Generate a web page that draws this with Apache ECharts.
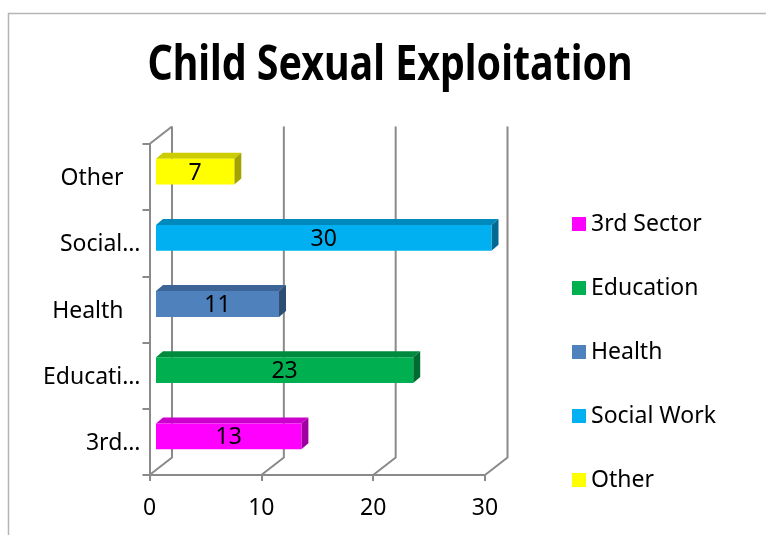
<!DOCTYPE html>
<html lang="en">
  <head>
    <meta charset="UTF-8" />
    <title>Child Sexual Exploitation</title>
    <style>
      * {
        margin: 0;
        padding: 0;
      }
      #main {
        width: 766px;
        height: 535px;
        background: #fff;
      }
    </style>
  </head>
  <body>
    <div id="main"></div>
    <script src="https://cdn.jsdelivr.net/npm/echarts@6/dist/echarts.min.js"></script>
    <script>
      // categories, bottom to top on the y axis
      var categories = ["3rd Sector", "Education", "Health", "Social Work", "Other"];
      // the axis shows cut-off names like excel does
      var tickLabels = ["3rd…", "Educati…", "Health", "Social…", "Other"];
      var values = [13, 23, 11, 30, 7];
      var xTicks = [0, 10, 20, 30];
      // face colours of the 3d bars
      var frontColors = ["#FF00FF", "#00B050", "#4F81BD", "#00B0F0", "#FFFF00"];
      var topColors = ["#CC00CC", "#008A3E", "#3D6496", "#0089BC", "#CCCC00"];
      var sideColors = ["#A000A0", "#006B30", "#2E4D73", "#006A92", "#A3A300"];

      var FONT = "Noto Sans";
      var LINE = "#8a8a8a";
      // depth of the back wall and of the bars
      var WALL_DX = 22.5, WALL_DY = -17.5;
      var BAR_DX = 7, BAR_DY = -6, BAR_SHIFT = 6.5, BAR_UP = -5.5;

      var myChart = echarts.init(document.getElementById("main"));

      // back wall + floor lines
      function renderFrame(params, api) {
        var cs = params.coordSys;
        var top = cs.y, bottom = cs.y + cs.height;
        var v = api.value(0);
        var x = api.coord([v, 0])[0];
        var kids = [
          {
            type: "polyline",
            shape: { points: [[x, bottom], [x + WALL_DX, bottom + WALL_DY], [x + WALL_DX, top + WALL_DY]] },
            style: { stroke: LINE, lineWidth: 2, fill: null },
          },
        ];
        if (v === 0) {
          kids.push({
            type: "line",
            shape: { x1: x, y1: top, x2: x + WALL_DX, y2: top + WALL_DY },
            style: { stroke: LINE, lineWidth: 2 },
          });
        }
        return { type: "group", children: kids };
      }

      // one 3d bar: front, top and side faces
      function renderBar(params, api) {
        var v = api.value(0);
        var c = api.value(1);
        var p0 = api.coord([0, c]);
        var p1 = api.coord([v, c]);
        var h = api.size([0, 1])[1] * 0.39;
        var x0 = p0[0] + BAR_SHIFT, x1 = p1[0] + BAR_SHIFT;
        var yc = p0[1] + BAR_UP;
        var t = yc - h / 2, b = yc + h / 2;
        return {
          type: "group",
          children: [
            {
              type: "polygon",
              shape: { points: [[x0, t], [x1, t], [x1 + BAR_DX, t + BAR_DY], [x0 + BAR_DX, t + BAR_DY]] },
              style: { fill: topColors[c] },
            },
            {
              type: "polygon",
              shape: { points: [[x1, t], [x1 + BAR_DX, t + BAR_DY], [x1 + BAR_DX, b + BAR_DY], [x1, b]] },
              style: { fill: sideColors[c] },
            },
            {
              type: "rect",
              shape: { x: x0, y: t, width: x1 - x0, height: b - t },
              style: { fill: frontColors[c] },
            },
            {
              type: "text",
              x: (x0 + x1) / 2,
              y: yc + 1.5,
              style: {
                text: String(v),
                fontFamily: FONT,
                fontSize: 23,
                fill: "#000",
                align: "center",
                verticalAlign: "middle",
              },
            },
          ],
        };
      }

      var series = [
        {
          type: "custom",
          name: "frame",
          silent: true,
          z: 1,
          renderItem: renderFrame,
          data: xTicks.map(function (v) {
            return [v, 0];
          }),
        },
      ];
      categories.forEach(function (name, i) {
        series.push({
          type: "custom",
          name: name,
          z: 2,
          itemStyle: { color: frontColors[i] },
          renderItem: renderBar,
          data: [[values[i], i]],
        });
      });

      var option = {
        animation: false,
        graphic: [
          {
            type: "rect",
            silent: true,
            shape: { x: 8.5, y: 13.5, width: 900, height: 900 },
            style: { fill: null, stroke: "#b5b5b5", lineWidth: 1.5 },
          },
          {
            type: "text",
            x: 390,
            y: 66,
            scaleX: 0.82,
            style: {
              text: "Child Sexual Exploitation",
              fontFamily: FONT,
              fontWeight: "bold",
              fontSize: 48,
              fill: "#000",
              align: "center",
              verticalAlign: "middle",
            },
          },
        ],
        grid: {
          left: 149.5,
          top: 144,
          right: 281,
          bottom: 60,
        },
        legend: {
          orient: "vertical",
          left: 567,
          top: 207,
          itemWidth: 14,
          itemHeight: 14,
          itemGap: 40,
          icon: "rect",
          selectedMode: false,
          data: categories,
          textStyle: {
            fontFamily: FONT,
            fontSize: 23,
            lineHeight: 24,
            color: "#000",
          },
        },
        xAxis: {
          type: "value",
          min: 0,
          max: 30,
          interval: 10,
          axisLine: { show: true, lineStyle: { color: LINE, width: 2 } },
          axisTick: { show: true, length: 6, lineStyle: { color: LINE, width: 2 } },
          splitLine: { show: false },
          axisLabel: { fontFamily: FONT, fontSize: 23, color: "#000", margin: 22 },
        },
        yAxis: {
          type: "category",
          data: tickLabels,
          axisLine: { show: true, lineStyle: { color: LINE, width: 2 } },
          axisTick: { show: true, length: 7, lineStyle: { color: LINE, width: 2 } },
          axisLabel: {
            fontFamily: FONT,
            fontSize: 23,
            color: "#000",
            margin: 9,
            // whole words sit a bit further from the axis than the cut ones
            formatter: function (s) {
              return s.slice(-1) === "…" ? "{c|" + s + "}" : "{p|" + s + "}";
            },
            rich: {
              c: { fontFamily: FONT, fontSize: 23, color: "#000", padding: [3, 0, 0, 0] },
              p: { fontFamily: FONT, fontSize: 23, color: "#000", padding: [3, 17, 0, 0] },
            },
          },
        },
        series: series,
      };
      myChart.setOption(option);
    </script>
  </body>
</html>
